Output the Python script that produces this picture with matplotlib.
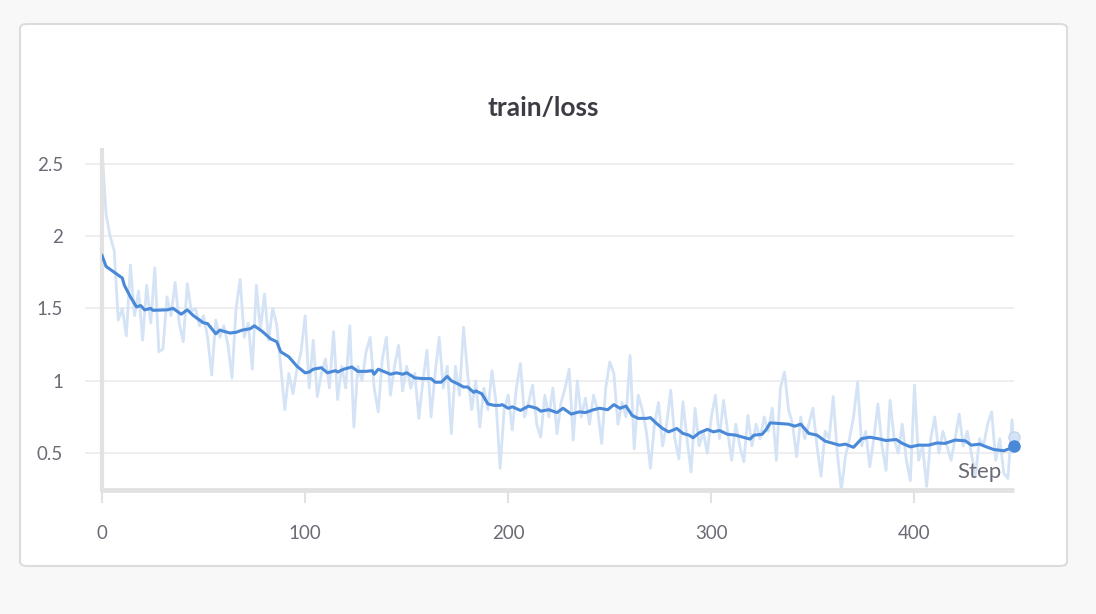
import matplotlib
matplotlib.use("Agg")
import matplotlib.pyplot as plt
from matplotlib.patches import FancyBboxPatch
import numpy as np

title = "train/loss"
x_label = "Step"
x_ticks = [0, 100, 200, 300, 400]
y_ticks = [0.5, 1, 1.5, 2, 2.5]
y_tick_labels = ["0.5", "1", "1.5", "2", "2.5"]

raw_steps = list(range(0, 450, 2)) + [449]
raw_loss = [
    2.60, 2.15, 2.00, 1.90, 1.42,
    1.50, 1.31, 1.80, 1.45, 1.62,
    1.28, 1.66, 1.40, 1.78, 1.20,
    1.22, 1.58, 1.45, 1.68, 1.40,
    1.27, 1.67, 1.48, 1.50, 1.38,
    1.45, 1.30, 1.04, 1.42, 1.30,
    1.38, 1.25, 1.02, 1.50, 1.70,
    1.30, 1.40, 1.08, 1.66, 1.35,
    1.60, 1.28, 1.50, 1.39, 1.10,
    0.80, 1.05, 0.91, 1.08, 1.20,
    1.45, 0.95, 1.28, 0.89, 1.05,
    1.15, 0.95, 1.34, 0.87, 1.10,
    0.95, 1.38, 0.68, 1.10, 1.00,
    1.20, 1.30, 0.95, 0.785, 1.15,
    1.30, 0.90, 1.10, 1.245, 0.93,
    1.10, 0.95, 1.05, 0.74, 1.00,
    1.21, 0.75, 1.05, 1.30, 0.95,
    1.10, 0.635, 1.10, 0.90, 1.37,
    1.05, 0.80, 1.00, 0.68, 0.95,
    0.80, 1.07, 0.85, 0.395, 0.80,
    0.90, 0.66, 0.95, 1.12, 0.75,
    0.85, 0.97, 0.70, 0.61, 0.90,
    0.75, 0.95, 0.635, 0.85, 0.95,
    1.08, 0.59, 1.00, 0.75, 0.88,
    0.70, 0.90, 0.80, 0.567, 0.95,
    1.13, 1.05, 0.70, 0.85, 0.75,
    1.175, 0.53, 0.90, 0.80, 0.65,
    0.395, 0.70, 0.85, 0.55, 0.70,
    0.935, 0.60, 0.46, 0.855, 0.60,
    0.37, 0.81, 0.55, 0.65, 0.50,
    0.75, 0.90, 0.60, 0.865, 0.65,
    0.45, 0.70, 0.55, 0.44, 0.76,
    0.55, 0.70, 0.60, 0.75, 0.65,
    0.81, 0.45, 0.95, 1.06, 0.80,
    0.70, 0.475, 0.75, 0.60, 0.70,
    0.81, 0.55, 0.34, 0.65, 0.60,
    0.89, 0.50, 0.245, 0.475, 0.60,
    0.75, 0.99, 0.55, 0.65, 0.405,
    0.60, 0.84, 0.55, 0.38, 0.865,
    0.60, 0.50, 0.70, 0.45, 0.31,
    0.97, 0.45, 0.55, 0.27, 0.60,
    0.75, 0.50, 0.65, 0.55, 0.45,
    0.60, 0.77, 0.55, 0.65, 0.50,
    0.34, 0.60, 0.55, 0.70, 0.785,
    0.45, 0.60, 0.36, 0.325, 0.73,
    0.61,
]

smooth_steps = [0, 2, 6, 10, 11, 14, 17, 19, 21, 24, 25, 32, 35, 39, 42, 45, 50, 52, 56, 58,
                63, 66, 69, 73, 75, 79, 83, 86, 88, 92, 96, 100, 102, 104, 108, 111, 115, 116,
                119, 123, 126, 130, 133, 134, 136, 142, 145, 148, 150, 154, 158, 162, 164, 167,
                170, 172, 175, 178, 180, 183, 184, 187, 190, 193, 196, 197, 200, 202, 206, 210,
                214, 216, 220, 224, 227, 231, 235, 238, 242, 245, 249, 252, 255, 258, 261, 264,
                268, 270, 273, 276, 279, 283, 286, 289, 291, 294, 298, 301, 304, 308, 312, 315,
                319, 321, 325, 327, 329, 333, 338, 341, 344, 348, 352, 356, 360, 363, 366, 370,
                374, 378, 382, 386, 391, 394, 398, 402, 407, 411, 415, 420, 425, 428, 432, 436,
                439, 444, 447, 449]
smooth_loss = [1.866, 1.79, 1.75, 1.71, 1.66, 1.58, 1.51, 1.52, 1.49, 1.50, 1.487, 1.49, 1.50,
               1.46, 1.49, 1.45, 1.40, 1.395, 1.325, 1.35, 1.33, 1.335, 1.35, 1.36, 1.38, 1.34,
               1.29, 1.27, 1.20, 1.165, 1.10, 1.055, 1.06, 1.08, 1.09, 1.055, 1.07, 1.06, 1.08,
               1.095, 1.065, 1.065, 1.07, 1.045, 1.08, 1.045, 1.055, 1.045, 1.055, 1.02, 1.015,
               1.015, 0.99, 0.99, 1.03, 1.0, 0.98, 0.957, 0.957, 0.92, 0.93, 0.91, 0.84, 0.83,
               0.83, 0.835, 0.81, 0.82, 0.795, 0.825, 0.81, 0.79, 0.80, 0.78, 0.81, 0.77, 0.785,
               0.78, 0.80, 0.81, 0.80, 0.835, 0.81, 0.825, 0.76, 0.74, 0.74, 0.745, 0.705, 0.67,
               0.647, 0.67, 0.636, 0.624, 0.606, 0.64, 0.664, 0.647, 0.656, 0.63, 0.624, 0.612,
               0.597, 0.624, 0.63, 0.663, 0.709, 0.705, 0.70, 0.686, 0.70, 0.636, 0.624, 0.583,
               0.567, 0.555, 0.562, 0.54, 0.60, 0.61, 0.60, 0.587, 0.594, 0.567, 0.543, 0.555,
               0.555, 0.57, 0.567, 0.59, 0.585, 0.555, 0.562, 0.54, 0.525, 0.516, 0.532, 0.55]

W, H = 1096, 614
fig = plt.figure(figsize=(W / 100, H / 100), dpi=100)
fig.patch.set_facecolor("#f8f8f8")

panel = FancyBboxPatch((20 / W, 1 - 566 / H), 1047 / W, 542 / H,
                       boxstyle="round,pad=0,rounding_size=0.007",
                       transform=fig.transFigure, facecolor="white",
                       edgecolor="#dcdcdc", linewidth=1.5, zorder=-5)
fig.patches.append(panel)

font = ["Lato", "DejaVu Sans"]
tick_color = "#6b6b76"
grid_color = "#ebebeb"

ax = fig.add_axes([102 / W, 1 - 490 / H, 912 / W, 340 / H])
ax.set_zorder(2)
ax.set_facecolor("none")
line_blue = "#4a88d8"
raw_blue = "#d4e3f5"
ax.plot(raw_steps, raw_loss, color=raw_blue, linewidth=2.0, zorder=2, solid_joinstyle="round")
ax.plot(smooth_steps, smooth_loss, color=line_blue, linewidth=2.2, zorder=3, solid_joinstyle="round")
ax.plot([raw_steps[-1]], [raw_loss[-1]], "o", markersize=8, markerfacecolor=raw_blue,
        markeredgecolor="#c2d6ef", zorder=3, clip_on=False)
ax.plot([smooth_steps[-1]], [smooth_loss[-1]], "o", markersize=8, color=line_blue,
        zorder=4, clip_on=False)

ax.set_xlim(0, 449)
ax.set_ylim(0.245, 2.595)
ax.set_xticks(x_ticks)
ax.set_xticklabels([str(t) for t in x_ticks], fontfamily=font, fontsize=13.5, color=tick_color)
ax.set_yticks(y_ticks)
ax.set_yticklabels(y_tick_labels, fontfamily=font, fontsize=13.5, color=tick_color)
ax.tick_params(axis="y", length=12, width=1.2, color=grid_color, pad=16)
ax.tick_params(axis="x", length=9, width=1.5, color="#e2e2e2", pad=16)
ax.grid(axis="y", color=grid_color, linewidth=1.2, zorder=0)
for s in ["top", "right"]:
    ax.spines[s].set_visible(False)
ax.spines["left"].set_color("#e2e2e2")
ax.spines["left"].set_linewidth(3)
ax.spines["bottom"].set_color("#e2e2e2")
ax.spines["bottom"].set_linewidth(3.5)
ax.spines["bottom"].set_capstyle("butt")

ax.text(0.962, 0.052, x_label, transform=ax.transAxes, ha="center", va="center",
        fontfamily=font, fontsize=16, color=tick_color, zorder=5)

fig.text(543 / W, 1 - 108 / H, title, ha="center", va="center", fontfamily=font,
         fontsize=19, fontweight="bold", color="#3c3c44")

fig.savefig("out.png", dpi=100, facecolor=fig.get_facecolor())
